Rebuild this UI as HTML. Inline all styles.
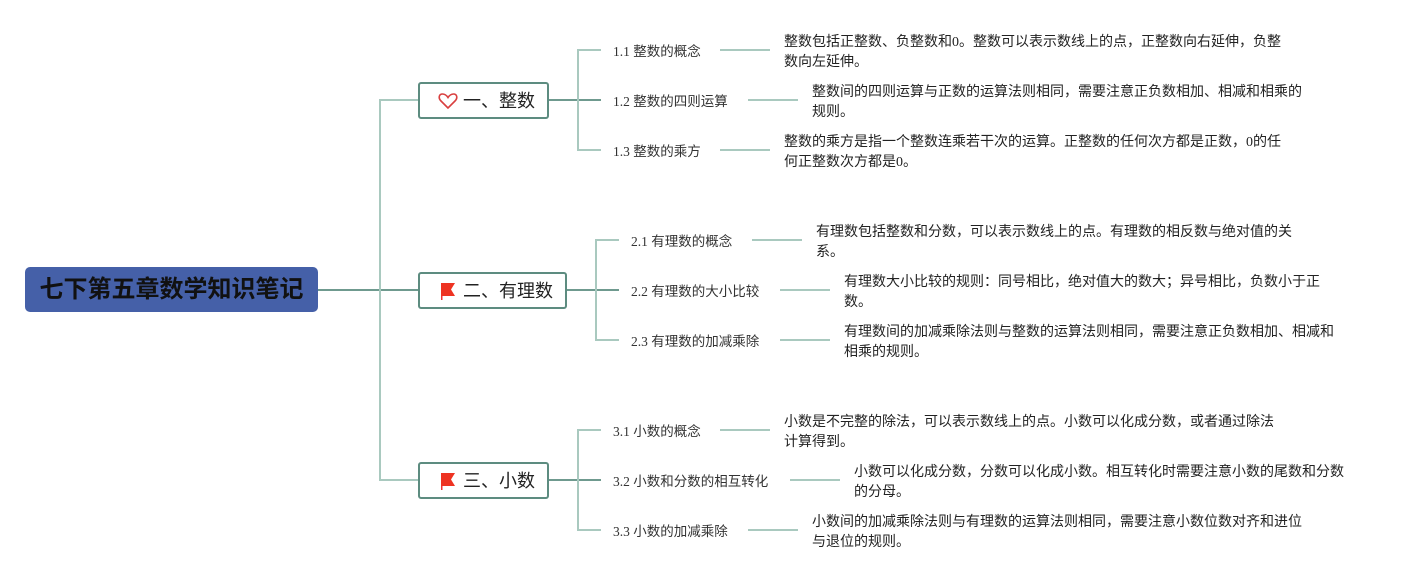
<!DOCTYPE html>
<html><head><meta charset="utf-8"><style>
body{margin:0;width:1414px;height:580px;background:#fff;position:relative;overflow:hidden;font-family:"Liberation Sans","Noto Sans CJK SC",sans-serif;color:#222}
.h{position:absolute;height:2px;background:#a9c9bf}
.v{position:absolute;width:2px;background:#a9c9bf}
.root{position:absolute;left:25px;top:267px;width:293px;height:45px;background:#4560a8;border-radius:5px;color:#111;font-weight:bold;font-size:24px;line-height:45px;text-align:center}
.box{position:absolute;height:33px;border:2px solid #5d8c80;border-radius:3px;background:#fff;font-size:18px;line-height:33px;box-sizing:content-box}
.box span{position:absolute;left:43px;top:1px;white-space:nowrap}
.lab{position:absolute;font-family:"Liberation Serif","Noto Sans CJK SC",sans-serif;font-size:13.5px;line-height:16px;white-space:nowrap;color:#333;margin-top:2px}
.d{position:absolute;font-family:"Liberation Serif","Noto Sans CJK SC",sans-serif;font-size:14px;line-height:20px;color:#222;white-space:nowrap;margin-top:2px}
.flag{position:absolute;left:18px;top:7px;width:20px;height:20px}
</style></head><body>
<div class="h" style="left:318px;top:289px;width:100px;background:#6f9a8f"></div>
<div class="v" style="left:379px;top:99px;height:382px"></div>
<div class="h" style="left:379px;top:99px;width:40px"></div>
<div class="h" style="left:379px;top:479px;width:40px"></div>

<div class="root">七下第五章数学知识笔记</div>

<div class="box" style="left:418px;top:82px;width:127px">
<svg class="flag" viewBox="0 0 20 20"><path d="M10 17 L3 10 C0 7 1 3 4.5 3 C7 3 9 5 10 6.5 C11 5 13 3 15.5 3 C19 3 20 7 17 10 Z" fill="none" stroke="#d94040" stroke-width="1.6"/></svg>
<span>一、整数</span></div>
<div class="box" style="left:418px;top:272px;width:145px">
<svg class="flag" viewBox="0 0 20 20"><rect x="3" y="2" width="1.5" height="17" fill="#e33"/><path d="M3 2 H17 L13 8.5 L17 15 H3 Z" fill="#ee3322"/></svg>
<span>二、有理数</span></div>
<div class="box" style="left:418px;top:462px;width:127px">
<svg class="flag" viewBox="0 0 20 20"><rect x="3" y="2" width="1.5" height="17" fill="#e33"/><path d="M3 2 H17 L13 8.5 L17 15 H3 Z" fill="#ee3322"/></svg>
<span>三、小数</span></div>

<div class="h" style="left:549px;top:99px;width:52px;background:#6f9a8f"></div>
<div class="v" style="left:577px;top:49px;height:102px"></div>
<div class="h" style="left:577px;top:49px;width:24px"></div>
<div class="h" style="left:577px;top:149px;width:24px"></div>
<div class="lab" style="left:613px;top:42px">1.1 整数的概念</div>
<div class="lab" style="left:613px;top:92px">1.2 整数的四则运算</div>
<div class="lab" style="left:613px;top:142px">1.3 整数的乘方</div>
<div class="h" style="left:720px;top:49px;width:50px"></div>
<div class="h" style="left:748px;top:99px;width:50px"></div>
<div class="h" style="left:720px;top:149px;width:50px"></div>
<div class="d" style="left:784px;top:31px">整数包括正整数、负整数和0。整数可以表示数线上的点，正整数向右延伸，负整<br>数向左延伸。</div>
<div class="d" style="left:812px;top:81px">整数间的四则运算与正数的运算法则相同，需要注意正负数相加、相减和相乘的<br>规则。</div>
<div class="d" style="left:784px;top:131px">整数的乘方是指一个整数连乘若干次的运算。正整数的任何次方都是正数，0的任<br>何正整数次方都是0。</div>

<div class="h" style="left:567px;top:289px;width:52px;background:#6f9a8f"></div>
<div class="v" style="left:595px;top:239px;height:102px"></div>
<div class="h" style="left:595px;top:239px;width:24px"></div>
<div class="h" style="left:595px;top:339px;width:24px"></div>
<div class="lab" style="left:631px;top:232px">2.1 有理数的概念</div>
<div class="lab" style="left:631px;top:282px">2.2 有理数的大小比较</div>
<div class="lab" style="left:631px;top:332px">2.3 有理数的加减乘除</div>
<div class="h" style="left:752px;top:239px;width:50px"></div>
<div class="h" style="left:780px;top:289px;width:50px"></div>
<div class="h" style="left:780px;top:339px;width:50px"></div>
<div class="d" style="left:816px;top:221px">有理数包括整数和分数，可以表示数线上的点。有理数的相反数与绝对值的关<br>系。</div>
<div class="d" style="left:844px;top:271px">有理数大小比较的规则：同号相比，绝对值大的数大；异号相比，负数小于正<br>数。</div>
<div class="d" style="left:844px;top:321px">有理数间的加减乘除法则与整数的运算法则相同，需要注意正负数相加、相减和<br>相乘的规则。</div>

<div class="h" style="left:549px;top:479px;width:52px;background:#6f9a8f"></div>
<div class="v" style="left:577px;top:429px;height:102px"></div>
<div class="h" style="left:577px;top:429px;width:24px"></div>
<div class="h" style="left:577px;top:529px;width:24px"></div>
<div class="lab" style="left:613px;top:422px">3.1 小数的概念</div>
<div class="lab" style="left:613px;top:472px">3.2 小数和分数的相互转化</div>
<div class="lab" style="left:613px;top:522px">3.3 小数的加减乘除</div>
<div class="h" style="left:720px;top:429px;width:50px"></div>
<div class="h" style="left:790px;top:479px;width:50px"></div>
<div class="h" style="left:748px;top:529px;width:50px"></div>
<div class="d" style="left:784px;top:411px">小数是不完整的除法，可以表示数线上的点。小数可以化成分数，或者通过除法<br>计算得到。</div>
<div class="d" style="left:854px;top:461px">小数可以化成分数，分数可以化成小数。相互转化时需要注意小数的尾数和分数<br>的分母。</div>
<div class="d" style="left:812px;top:511px">小数间的加减乘除法则与有理数的运算法则相同，需要注意小数位数对齐和进位<br>与退位的规则。</div>
</body></html>
